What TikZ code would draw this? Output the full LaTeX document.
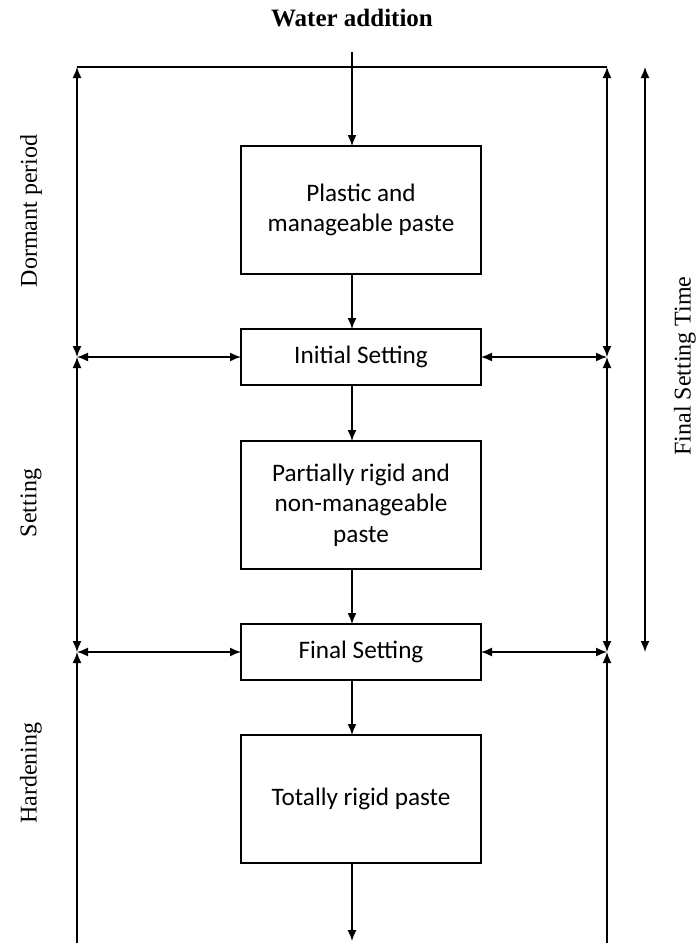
\documentclass[tikz,border=0pt]{standalone}
\usepackage{fontspec}
\setmainfont{Liberation Serif}
\newfontfamily\boxfont{Carlito}
\usetikzlibrary{arrows.meta}
\begin{document}
\begin{tikzpicture}[x=1pt,y=-1pt,
  every node/.style={inner sep=0pt, outer sep=0pt},
  stagebox/.style={draw, line width=1.5pt, minimum width=240pt, font=\boxfont\fontsize{25.2}{30.5}\selectfont, align=center},
  plain/.style={line width=1.5pt},
  flow/.style={line width=1.5pt, -{Latex[length=11pt,width=9pt]}},
  dbl/.style={line width=1.5pt, {Latex[length=11pt,width=9pt]}-{Latex[length=11pt,width=9pt]}},
  lab/.style={font=\fontsize{24}{28}\selectfont, rotate=90}]
\useasboundingbox (0,0) rectangle (698,943);
\fill[white] (0,0) rectangle (698,943);

% title
\node[font=\bfseries\fontsize{25}{29}\selectfont] (water) at (352,18) {Water addition};
\coordinate (wt) at (352,52);

% boxes
\node[stagebox, minimum height=128pt] (b1) at (361,210) {Plastic and\\manageable paste};
\node[stagebox, minimum height=56pt]  (b2) at (361,357) {Initial Setting};
\node[stagebox, minimum height=128pt] (b3) at (361,505) {Partially rigid and\\non-manageable\\paste};
\node[stagebox, minimum height=56pt]  (b4) at (361,652) {Final Setting};
\node[stagebox, minimum height=128pt] (b5) at (361,799) {Totally rigid paste};
\coordinate (bend) at (352,941);

% main flow
\draw[flow] (wt) -- (wt |- b1.north);
\draw[flow] (b1.south -| wt) -- (b2.north -| wt);
\draw[flow] (b2.south -| wt) -- (b3.north -| wt);
\draw[flow] (b3.south -| wt) -- (b4.north -| wt);
\draw[flow] (b4.south -| wt) -- (b5.north -| wt);
\draw[flow] (b5.south -| wt) -- (bend);

% frame coordinates
\coordinate (L0) at (77,67);
\coordinate (R0) at (607,67);
\coordinate (F0) at (645,67);
\coordinate (L1) at (b2.west -| L0);
\coordinate (L2) at (b4.west -| L0);
\coordinate (R1) at (b2.east -| R0);
\coordinate (R2) at (b4.east -| R0);
\coordinate (F2) at (b4.east -| F0);
\coordinate (Lb) at (77,943);
\coordinate (Rb) at (607,943);

% top line
\draw[plain] (L0) -- (R0);

% left side
\draw[dbl] (L1) -- (L0);
\draw[dbl] (L2) -- (L1);
\draw[flow] (Lb) -- (L2);
% right side
\draw[dbl] (R1) -- (R0);
\draw[dbl] (R2) -- (R1);
\draw[flow] (Rb) -- (R2);
% final setting time
\draw[dbl] (F2) -- (F0);

% horizontal links
\draw[dbl] (L1) -- (b2.west);
\draw[dbl] (b2.east) -- (R1);
\draw[dbl] (L2) -- (b4.west);
\draw[dbl] (b4.east) -- (R2);

% labels
\node[lab] (ldorm) at (31,211) {Dormant period};
\node[lab] (lset) at (31,503) {Setting};
\node[lab] (lhard) at (31,773) {Hardening};
\node[lab] (lfst) at (685,366) {Final Setting Time};
\end{tikzpicture}
\end{document}
